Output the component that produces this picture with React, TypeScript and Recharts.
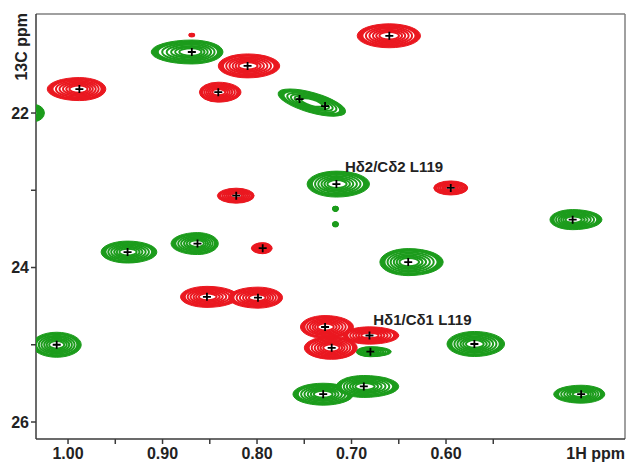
import React from 'react';
import { ScatterChart, Scatter, XAxis, YAxis, ReferenceLine, Label } from 'recharts';

// 1H / 13C shift window of the methyl region (ppm)
const H_RANGE: [number, number] = [0.4106, 1.0339];
const C_RANGE: [number, number] = [20.718, 26.22];

const H_TICKS = [1.0, 0.95, 0.9, 0.85, 0.8, 0.75, 0.7, 0.65, 0.6, 0.55];
const C_TICKS = [22, 23, 24, 25, 26];

// Cross peaks: shift (x = 1H, y = 13C), half linewidths in ppm
// (wl = downfield side, wr = upfield side, h = 13C), optional skew of the lineshape (deg)
type Peak = { x: number; y: number; wl: number; wr: number; h: number; tilt?: number };

const redPeaks: Peak[] = [
  { x: 0.869, y: 20.99, wl: 0.003, wr: 0.003, h: 0.02 },
  { x: 0.81, y: 21.39, wl: 0.031, wr: 0.034, h: 0.155 },
  { x: 0.988, y: 21.69, wl: 0.034, wr: 0.028, h: 0.149 },
  { x: 0.841, y: 21.73, wl: 0.02, wr: 0.024, h: 0.129 },
  { x: 0.822, y: 23.07, wl: 0.02, wr: 0.019, h: 0.097 },
  { x: 0.595, y: 22.97, wl: 0.018, wr: 0.018, h: 0.091 },
  { x: 0.66, y: 21.0, wl: 0.034, wr: 0.033, h: 0.155 },
  { x: 0.794, y: 23.75, wl: 0.012, wr: 0.01, h: 0.071 },
  { x: 0.853, y: 24.38, wl: 0.028, wr: 0.033, h: 0.136 },
  { x: 0.799, y: 24.39, wl: 0.031, wr: 0.026, h: 0.136 },
  { x: 0.728, y: 24.77, wl: 0.026, wr: 0.03, h: 0.148 },
  { x: 0.721, y: 25.04, wl: 0.029, wr: 0.027, h: 0.148 },
  { x: 0.681, y: 24.88, wl: 0.028, wr: 0.031, h: 0.112 },
];

const greenPeaks: Peak[] = [
  { x: 0.869, y: 21.21, wl: 0.043, wr: 0.033, h: 0.155 },
  { x: 0.742, y: 21.865, wl: 0.037, wr: 0.037, h: 0.13, tilt: 16 },
  { x: 1.036, y: 22.0, wl: 0.011, wr: 0.011, h: 0.11 },
  { x: 0.716, y: 22.92, wl: 0.031, wr: 0.035, h: 0.168 },
  { x: 0.717, y: 23.24, wl: 0.003, wr: 0.003, h: 0.032 },
  { x: 0.717, y: 23.44, wl: 0.003, wr: 0.003, h: 0.032 },
  { x: 0.466, y: 23.38, wl: 0.024, wr: 0.031, h: 0.13 },
  { x: 0.937, y: 23.8, wl: 0.028, wr: 0.031, h: 0.142 },
  { x: 0.863, y: 23.69, wl: 0.028, wr: 0.022, h: 0.142 },
  { x: 0.64, y: 23.93, wl: 0.03, wr: 0.037, h: 0.175 },
  { x: 1.012, y: 25.0, wl: 0.026, wr: 0.026, h: 0.162 },
  { x: 0.68, y: 25.09, wl: 0.015, wr: 0.022, h: 0.065 },
  { x: 0.57, y: 24.99, wl: 0.029, wr: 0.032, h: 0.162 },
  { x: 0.73, y: 25.64, wl: 0.032, wr: 0.032, h: 0.142 },
  { x: 0.687, y: 25.54, wl: 0.029, wr: 0.037, h: 0.142 },
  { x: 0.457, y: 25.64, wl: 0.029, wr: 0.025, h: 0.116 },
];

// Picked peak positions
const picked = [
  { x: 0.81, y: 21.39 }, { x: 0.988, y: 21.69 }, { x: 0.841, y: 21.73 },
  { x: 0.822, y: 23.07 }, { x: 0.595, y: 22.97 }, { x: 0.66, y: 21.0 },
  { x: 0.794, y: 23.75 }, { x: 0.853, y: 24.38 }, { x: 0.799, y: 24.39 },
  { x: 0.728, y: 24.77 }, { x: 0.721, y: 25.04 }, { x: 0.681, y: 24.88 },
  { x: 0.869, y: 21.21 }, { x: 0.755, y: 21.82 }, { x: 0.728, y: 21.91 },
  { x: 0.716, y: 22.92 }, { x: 0.466, y: 23.38 }, { x: 0.937, y: 23.8 },
  { x: 0.863, y: 23.69 }, { x: 0.64, y: 23.93 }, { x: 1.012, y: 25.0 },
  { x: 0.68, y: 25.09 }, { x: 0.57, y: 24.99 }, { x: 0.73, y: 25.64 },
  { x: 0.687, y: 25.54 }, { x: 0.457, y: 25.64 },
];

const assignments = [
  { x: 0.707, y: 22.76, text: 'Hδ2/Cδ2 L119' },
  { x: 0.677, y: 24.74, text: 'Hδ1/Cδ1 L119' },
];

const W = 626;
const H = 462;
const M = { top: 14, right: 1, bottom: 0, left: 0 };
const Y_AXIS_W = 36;
const X_AXIS_H = 23;
const PLOT_W = W - M.left - M.right - Y_AXIS_W;
const PLOT_H = H - M.top - M.bottom - X_AXIS_H;
const X_PX = PLOT_W / (H_RANGE[1] - H_RANGE[0]);
const Y_PX = PLOT_H / (C_RANGE[1] - C_RANGE[0]);

const RED = '#ea1820';
const GREEN = '#1c9c1c';
const INK = '#222';
const FONT = '"Liberation Sans", Arial, sans-serif';

// outermost contours merge into a solid band; these inner levels stay resolved
const INNER_LEVELS = [0.84, 0.73, 0.62, 0.51, 0.41, 0.31];

const lobe = (cx: number, cy: number, rl: number, rr: number, ry: number, f: number) =>
  `M${cx},${cy - ry * f}A${rr * f},${ry * f} 0 0 1 ${cx},${cy + ry * f}A${rl * f},${ry * f} 0 0 1 ${cx},${cy - ry * f}Z`;

const makeContours = (color: string) => (props: any) => {
  const { cx, cy, payload } = props;
  if (cx == null || cy == null) return <g />;
  const rl = payload.wl * X_PX;
  const rr = payload.wr * X_PX;
  const ry = payload.h * Y_PX;
  return (
    <g transform={payload.tilt ? `rotate(${payload.tilt} ${cx} ${cy})` : undefined}>
      <path d={lobe(cx, cy, rl, rr, ry, 1)} fill={color} stroke={color} strokeWidth={1} />
      <path d={lobe(cx, cy, rl, rr, ry, INNER_LEVELS[0])} fill="#fff" />
      {INNER_LEVELS.map((f, i) => (
        <path key={i} d={lobe(cx, cy, rl, rr, ry, f)} fill="none" stroke={color} strokeWidth={2} />
      ))}
    </g>
  );
};

const Cross = (props: any) => {
  const { cx, cy } = props;
  if (cx == null || cy == null) return <g />;
  return (
    <path
      d={`M${cx - 4},${cy}H${cx + 4}M${cx},${cy - 4}V${cy + 4}`}
      stroke="#000"
      strokeWidth={1.8}
      fill="none"
    />
  );
};

const Note = (props: any) => {
  const { cx, cy, payload } = props;
  if (cx == null || cy == null) return <g />;
  return (
    <text x={cx} y={cy} textAnchor="start" fontFamily={FONT} fontWeight="bold" fontSize={15} fill={INK}>
      {payload.text}
    </text>
  );
};

const HTick = (props: any) => {
  const { x, y, payload } = props;
  const v = payload.value;
  const major = Math.abs(v * 10 - Math.round(v * 10)) < 1e-6;
  if (!major) return <g />;
  return (
    <text x={x} y={y} dy="0.71em" textAnchor="middle" fontFamily={FONT} fontWeight="bold" fontSize={16} fill={INK}>
      {v.toFixed(2)}
    </text>
  );
};

const CTick = (props: any) => {
  const { x, y, payload } = props;
  const v = payload.value;
  if (v % 2 !== 0) return <g />;
  return (
    <text x={x} y={y} dy="0.35em" textAnchor="end" fontFamily={FONT} fontWeight="bold" fontSize={16} fill={INK}>
      {v}
    </text>
  );
};

export default function App() {
  return (
    <div style={{ position: 'absolute', left: 0, top: 0, width: W, height: H, background: '#fff' }}>
      <ScatterChart width={W} height={H} margin={M}>
        <XAxis
          type="number"
          dataKey="x"
          domain={H_RANGE}
          reversed
          allowDataOverflow
          ticks={H_TICKS}
          interval={0}
          tick={<HTick />}
          tickSize={5}
          tickMargin={4}
          height={X_AXIS_H}
          axisLine={{ stroke: '#3a3a3a', strokeWidth: 1.5 }}
          tickLine={{ stroke: '#3a3a3a', strokeWidth: 1.5 }}
        >
          <Label
            content={(p: any) => {
              const vb = p.viewBox;
              return (
                <text
                  x={vb.x + vb.width}
                  y={vb.y + 9}
                  dy="0.71em"
                  textAnchor="end"
                  fontFamily={FONT}
                  fontWeight="bold"
                  fontSize={16}
                  fill={INK}
                >
                  1H ppm
                </text>
              );
            }}
          />
        </XAxis>
        <YAxis
          type="number"
          dataKey="y"
          domain={C_RANGE}
          reversed
          allowDataOverflow
          ticks={C_TICKS}
          interval={0}
          tick={<CTick />}
          tickSize={5}
          tickMargin={2}
          width={Y_AXIS_W}
          axisLine={{ stroke: '#3a3a3a', strokeWidth: 1.5 }}
          tickLine={{ stroke: '#3a3a3a', strokeWidth: 1.5 }}
        >
          <Label
            content={(p: any) => {
              const vb = p.viewBox;
              const x = vb.x + 27;
              const y = vb.y - 1;
              return (
                <text
                  x={x}
                  y={y}
                  transform={`rotate(-90 ${x} ${y})`}
                  textAnchor="end"
                  fontFamily={FONT}
                  fontWeight="bold"
                  fontSize={16}
                  fill={INK}
                >
                  13C ppm
                </text>
              );
            }}
          />
        </YAxis>
        <ReferenceLine y={C_RANGE[0]} stroke="#808080" strokeWidth={1.5} />
        <ReferenceLine x={H_RANGE[0]} stroke="#808080" strokeWidth={1.5} />
        <Scatter data={greenPeaks} shape={makeContours(GREEN)} isAnimationActive={false} />
        <Scatter data={redPeaks} shape={makeContours(RED)} isAnimationActive={false} />
        <Scatter data={picked} shape={<Cross />} isAnimationActive={false} />
        <Scatter data={assignments} shape={<Note />} isAnimationActive={false} />
      </ScatterChart>
    </div>
  );
}
